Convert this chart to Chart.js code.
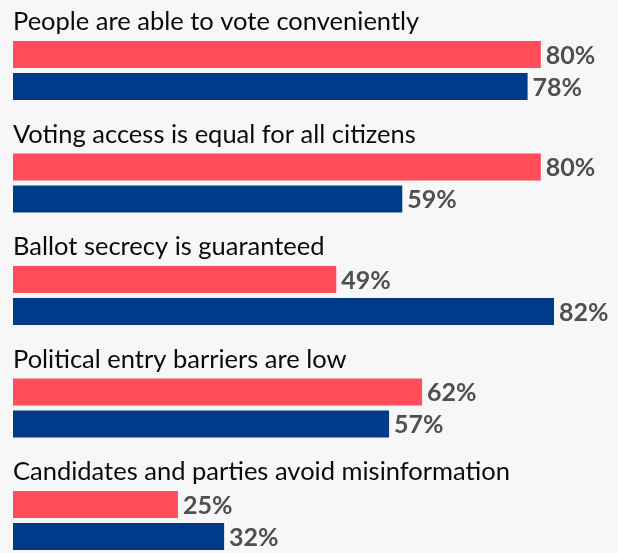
<!DOCTYPE html>
<html>
<head>
<meta charset="utf-8">
<script src="https://cdn.jsdelivr.net/npm/chart.js@4"></script>
<style>
  html, body { margin: 0; padding: 0; background: #f7f7f7; }
  #wrap { width: 618px; height: 553px; position: relative; }
</style>
</head>
<body>
<div id="wrap"><canvas id="ctx"></canvas></div>
<script>
const $chart = document.getElementById('ctx')

// categories and the two series, top to bottom
const categories = [
  'People are able to vote conveniently',
  'Voting access is equal for all citizens',
  'Ballot secrecy is guaranteed',
  'Political entry barriers are low',
  'Candidates and parties avoid misinformation'
]
const redValues = [80, 80, 49, 62, 25]
const blueValues = [78, 59, 82, 57, 32]

const RED = '#ff4d5a'
const BLUE = '#003b89'

// category title above each pair of bars
const groupTitles = {
  id: 'groupTitles',
  afterDatasetsDraw: (chart) => {
    const {ctx} = chart
    const yScale = chart.scales.y
    const left = chart.chartArea.left
    ctx.save()
    ctx.font = '25.5px Lato'
    ctx.fillStyle = '#0a0a0a'
    ctx.textAlign = 'left'
    ctx.textBaseline = 'alphabetic'
    chart.data.labels.forEach((label, i) => {
      const y = yScale.getPixelForTick(i)
      ctx.fillText(label, left, y - 40.5)
    })
    ctx.restore()
  }
}

// percentage text at the end of each bar
const valueLabels = {
  id: 'valueLabels',
  afterDatasetsDraw: (chart) => {
    const {ctx} = chart
    ctx.save()
    ctx.font = 'bold 25px Lato'
    ctx.fillStyle = '#505050'
    ctx.textAlign = 'left'
    ctx.textBaseline = 'middle'
    chart.data.datasets.forEach((ds, di) => {
      chart.getDatasetMeta(di).data.forEach((bar, i) => {
        ctx.fillText(ds.data[i] + '%', bar.x + 5, bar.y + 1)
      })
    })
    ctx.restore()
  }
}

const data = {
  labels: categories,
  datasets: [
    { data: redValues, backgroundColor: RED, clip: false },
    { data: blueValues, backgroundColor: BLUE, clip: false }
  ]
}

const options = {
  type: 'bar',
  data: data,
  options: {
    indexAxis: 'y',
    responsive: true,
    maintainAspectRatio: false,
    animation: false,
    categoryPercentage: 64 / 112.5,
    barPercentage: 27 / 32,
    layout: {
      padding: { left: 13, right: 0, top: 70.5, bottom: 32.5 }
    },
    scales: {
      x: { display: false, min: 0, max: 91.7 },
      y: { display: false, offset: false }
    },
    plugins: {
      legend: { display: false },
      tooltip: { enabled: false }
    }
  },
  plugins: [groupTitles, valueLabels]
}

var chart = new Chart($chart, options);
</script>
</body>
</html>
